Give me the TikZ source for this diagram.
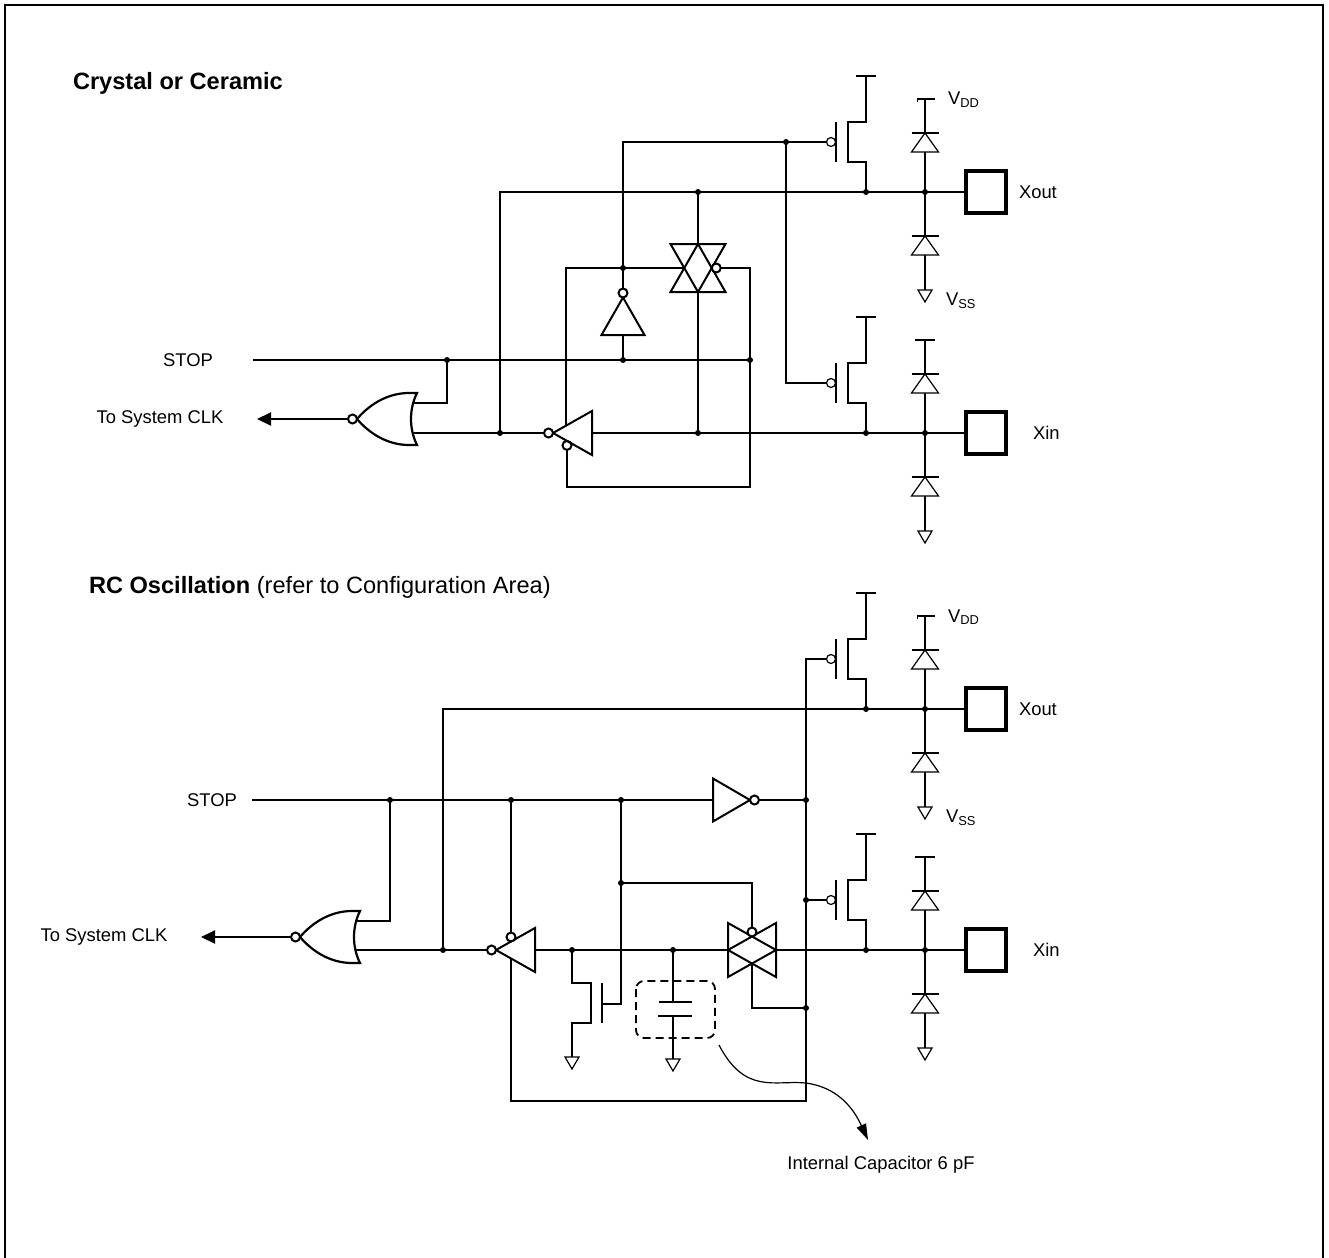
\documentclass[tikz,border=0pt]{standalone}
\usepackage{fontspec}
\setmainfont{Liberation Sans}
\usetikzlibrary{calc, arrows.meta}

\begin{document}
\begin{tikzpicture}[x=0.5pt, y=-0.5pt, line width=1pt,
		label/.style = {font=\fontsize{9.2}{11}\selectfont, inner sep=0pt},
		title/.style = {font=\fontsize{11.8}{14}\selectfont, anchor=west, inner sep=0pt},
		thin part/.style = {line width=0.6pt, fill=white},
		pad/.style = {line width=1.6pt},
		junction/.style = {radius=3},
		ground/.pic = {\draw [thin part] (-7,0) -- (7,0) -- (0,12) -- cycle;},
		pmos/.pic = {
			\draw (0,0) -- (0,-30) -- (-18,-30) -- (-18,-70) -- (0,-70) -- (0,-116);
			\draw (-10,-116) -- (10,-116);
			\draw (-30,-30) -- (-30,-70);
			\draw [thin part] (-35,-50) circle [radius=4.5];
			\coordinate (-gate) at (-39.5,-50);
		},
		clamp/.pic = {
			\draw (0,-93) -- (0,98);
			\draw (-13.5,-59) -- (13.5,-59);
			\draw [thin part] (0,-59) -- (-13.5,-40) -- (13.5,-40) -- cycle;
			\draw (-13.5,44) -- (13.5,44);
			\draw [thin part] (0,44) -- (-13.5,63) -- (13.5,63) -- cycle;
			\pic at (0,98) {ground};
		},
		nor/.pic = {
			\draw [fill=white, line width=1.1pt] (60,-26) .. controls (52,-10) and (52,10) .. (60,26) -- (52,26) .. controls (30,26) and (12,14) .. (0,0) .. controls (12,-14) and (30,-26) .. (52,-26) -- cycle;
			\draw [fill=white] (-4.5,0) circle [radius=4.5];
		},
		tristate/.pic = {
			\draw (0,0) -- (39,-22) -- (39,22) -- cycle;
			\draw [fill=white] (-4.5,0) circle [radius=4.5];
		}
	]
	\useasboundingbox (0,0) rectangle (1329,1258);
	\draw (5,1262) -- (5,5) -- (1323,5) -- (1323,1262);

	% pins
	\foreach \y/\pin/\lx [count=\i] in {192/Xout/1018, 433/Xin/1032, 709/Xout/1018, 950/Xin/1032}{
		\draw (866,\y) -- (966,\y);
		\pic (pm\i) at (866,\y) {pmos};
		\pic at (925,\y) {clamp};
		\draw [pad] (966,\y-21) rectangle (1006,\y+21);
		\node [label, anchor=west] (pin\i) at (\lx,\y) {\pin};
		\fill (866,\y) circle [junction];
		\fill (925,\y) circle [junction];
	}
	\foreach \y in {192, 709}{
		\draw (917,\y-93) -- (935,\y-93);
		\draw [line width=0.6pt] (917.3,\y-93) -- (917.3,\y-90);
		\node [label, anchor=west] at (947,\y-92) {V\textsubscript{DD}};
		\node [label, anchor=west] at (945,\y+109) {V\textsubscript{SS}};
	}
	\foreach \y in {433, 950} \draw (915,\y-93) -- (935,\y-93);

	% crystal or ceramic
	\node [title] (xtal) at (72,83) {\bfseries Crystal or Ceramic};
	\draw (500,433) -- (500,192) -- (866,192);
	\draw (pm1-gate) -| (623,288.5);
	\draw (786,142) |- (pm2-gate);
	\draw (623,297.5) -- (601.5,335) -- (644.5,335) -- cycle;
	\draw [fill=white] (623,293) circle [radius=4.5];
	\draw (623,335) -- (623,360);

	\draw (698,192) -- (698,244);
	\draw (698,292) -- (698,433);
	\draw (670.5,244) -- (725.5,244) -- (698,292) -- cycle;
	\draw (670.5,292) -- (725.5,292) -- (698,244) -- cycle;
	\draw [fill=white] (716.25,268) circle [radius=4.5];
	\draw (566,425.7) -- (566,268) -- (684.25,268);
	\draw (720.75,268) -- (750,268) -- (750,487) -- (567,487) -- (567,449.9);
	\draw [fill=white] (567,445.4) circle [radius=4.5];

	\node [label] (stop1) at (188,360) {STOP};
	\draw (253,360) -- (750,360);
	\draw (447,360) -- (447,403) -- (413,403);
	\pic at (357,419) {nor};
	\draw [-{Triangle[length=7pt, width=6.5pt]}] (348,419) -- (257,419);
	\node [label] (clk1) at (160,419) {To System CLK};
	\draw (412.5,433) -- (544,433);
	\pic at (553,433) {tristate};
	\draw (592,433) -- (866,433);

	\foreach \p in {(698,192), (500,433), (786,142), (623,268), (447,360), (623,360), (750,360), (698,433)}
		\fill \p circle [junction];

	% rc oscillation
	\node [title] (rc) at (88,587) {{\bfseries RC Oscillation} (refer to Configuration Area)};
	\draw (443,950) -- (443,709) -- (866,709);
	\draw (511,958.5) |- (806,1101) |- (pm3-gate);
	\draw (806,900) -- (pm4-gate);

	\node [label] (stop2) at (212,800) {STOP};
	\draw (252,800) -- (713,800);
	\draw (713,778.5) -- (750,800) -- (713,821.5) -- cycle;
	\draw [fill=white] (754.5,800) circle [radius=4.5];
	\draw (759,800) -- (806,800);
	\draw (390,800) -- (390,921) -- (356,921);
	\pic at (300,937) {nor};
	\draw [-{Triangle[length=7pt, width=6.5pt]}] (291,937) -- (201,937);
	\node [label] (clk2) at (104,937) {To System CLK};
	\draw (355.5,950) -- (487,950);
	\pic at (496,950) {tristate};
	\draw (511,800) -- (511,932.5);
	\draw [fill=white] (511,937) circle [radius=4.5];
	\draw (535,950) -- (728,950);
	\draw (776,950) -- (866,950);

	\draw (728,923) -- (728,977) -- (776,950) -- cycle;
	\draw (776,923) -- (776,977) -- (728,950) -- cycle;
	\draw (621,800) -- (621,1004) -- (602,1004);
	\draw (621,883) -- (752,883) -- (752,927.5);
	\draw [fill=white] (752,932) circle [radius=4.5];
	\draw (752,963.5) -- (752,1008) -- (806,1008);

	\draw (572,950) -- (572,983) -- (591,983) -- (591,1023) -- (572,1023) -- (572,1057);
	\draw (602,983) -- (602,1023);
	\pic at (572,1057) {ground};

	\draw (673,950) -- (673,1002);
	\draw [line width=1.3pt] (659,1002) -- (692,1002);
	\draw [line width=1.3pt] (658,1016) -- (692,1016);
	\draw (673,1016) -- (673,1059);
	\pic at (673,1059) {ground};
	\draw [line width=0.9pt, dash pattern=on 4pt off 2.5pt, rounded corners=4pt] (636,981) rectangle (715,1038);

	\draw [line width=0.6pt, -{Triangle[length=8pt, width=5pt]}] (719,1045) .. controls (745,1095) and (775,1080) .. (806,1083) .. controls (835,1087) and (852,1105) .. (868,1140);
	\node [label] (cap) at (881,1165) {Internal Capacitor 6 pF};

	\foreach \p in {(443,950), (806,800), (806,900), (806,1008), (390,800), (511,800), (621,800), (621,883), (572,950), (673,950)}
		\fill \p circle [junction];
\end{tikzpicture}
\end{document}
